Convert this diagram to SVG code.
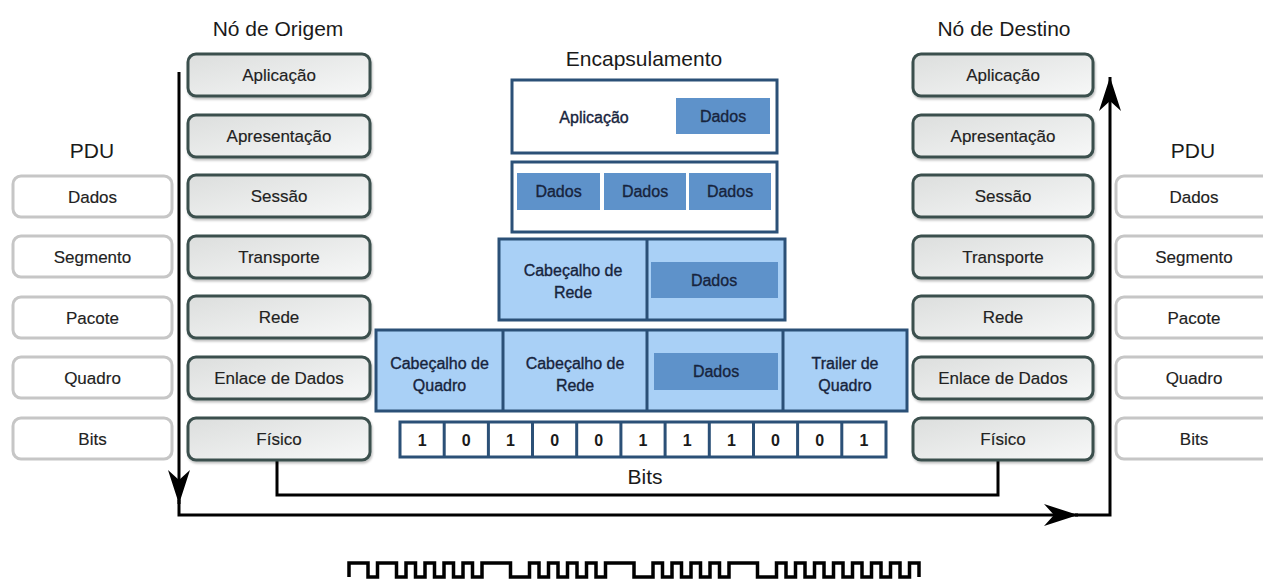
<svg xmlns="http://www.w3.org/2000/svg" width="1263" height="581" viewBox="0 0 1263 581">
<style>
  text { font-family: "Liberation Sans", Arial, sans-serif; text-anchor: middle; }
  .title { font-size: 21px; fill: #1a1a1a; }
  .lbl { font-size: 17px; fill: #222222; dominant-baseline: central; stroke: #222222; stroke-width: 0.15; }
  .enc { font-size: 16px; fill: #17243d; dominant-baseline: central; stroke: #17243d; stroke-width: 0.35; }
  .bit { font-size: 16px; font-weight: bold; fill: #1a1a1a; dominant-baseline: central; }
  .layer { fill: url(#layerGrad); stroke: #3b504d; stroke-width: 3; filter: url(#sh); }
  .pdu { fill: #ffffff; stroke: #c6c6c6; stroke-width: 3; }
  .frame { stroke: #2b5077; stroke-width: 3; }
  .white { fill: #ffffff; }
  .light { fill: #a9d0f6; }
  .mid { fill: #5e92ca; }
  .div { stroke: #2b5077; stroke-width: 3; fill: none; }
  .conn { fill: none; stroke: #000; stroke-width: 3; }
</style>
<defs>
  <linearGradient id="layerGrad" x1="0" y1="0" x2="1" y2="1">
    <stop offset="0" stop-color="#dcdedd"/>
    <stop offset="1" stop-color="#f7f8f8"/>
  </linearGradient>
  <filter id="sh" x="-10%" y="-20%" width="120%" height="150%">
    <feDropShadow dx="1" dy="2" stdDeviation="1.2" flood-color="#000" flood-opacity="0.25"/>
  </filter>
  <marker id="arr" viewBox="0 0 34 22" markerWidth="34" markerHeight="22" refX="34" refY="11" orient="auto" markerUnits="userSpaceOnUse">
    <path d="M0,0 L34,11 L0,22 L10,11 z" fill="#000"/>
  </marker>
</defs>
<rect width="1263" height="581" fill="#ffffff"/>

<!-- titles -->
<text class="title" x="278" y="36">Nó de Origem</text>
<text class="title" x="1004" y="36">Nó de Destino</text>
<text class="title" x="92" y="158">PDU</text>
<text class="title" x="1193" y="158">PDU</text>
<text class="title" x="644" y="66">Encapsulamento</text>
<text class="title" x="645" y="484">Bits</text>

<!-- connectors -->
<g id="connectors">
  <path class="conn" d="M179,72 V504" marker-end="url(#arr)"/>
  <path class="conn" d="M179,500 V515 H1078" marker-end="url(#arr)"/>
  <path class="conn" d="M1075,515 H1110 V77" marker-end="url(#arr)"/>
  <path class="conn" d="M277,460 V495 H998 V460"/>
</g>

<!-- left PDU column -->
<g id="pdu-left-dados"><rect class="pdu" x="13" y="176" width="159" height="41" rx="8"/><text class="lbl" x="92.5" y="197">Dados</text></g>
<g id="pdu-left-segmento"><rect class="pdu" x="13" y="236" width="159" height="41" rx="8"/><text class="lbl" x="92.5" y="257">Segmento</text></g>
<g id="pdu-left-pacote"><rect class="pdu" x="13" y="297" width="159" height="41" rx="8"/><text class="lbl" x="92.5" y="318">Pacote</text></g>
<g id="pdu-left-quadro"><rect class="pdu" x="13" y="357" width="159" height="41" rx="8"/><text class="lbl" x="92.5" y="378">Quadro</text></g>
<g id="pdu-left-bits"><rect class="pdu" x="13" y="418" width="159" height="41" rx="8"/><text class="lbl" x="92.5" y="439">Bits</text></g>

<!-- origin node -->
<g id="src-aplicacao"><rect class="layer" x="188" y="54" width="182" height="42" rx="8"/><text class="lbl" x="279" y="75">Aplicação</text></g>
<g id="src-apresentacao"><rect class="layer" x="188" y="115" width="182" height="42" rx="8"/><text class="lbl" x="279" y="136">Apresentação</text></g>
<g id="src-sessao"><rect class="layer" x="188" y="175" width="182" height="42" rx="8"/><text class="lbl" x="279" y="196">Sessão</text></g>
<g id="src-transporte"><rect class="layer" x="188" y="236" width="182" height="42" rx="8"/><text class="lbl" x="279" y="257">Transporte</text></g>
<g id="src-rede"><rect class="layer" x="188" y="296" width="182" height="42" rx="8"/><text class="lbl" x="279" y="317">Rede</text></g>
<g id="src-enlace"><rect class="layer" x="188" y="357" width="182" height="42" rx="8"/><text class="lbl" x="279" y="378">Enlace de Dados</text></g>
<g id="src-fisico"><rect class="layer" x="188" y="418" width="182" height="42" rx="8"/><text class="lbl" x="279" y="439">Físico</text></g>

<!-- destination node -->
<g id="dst-aplicacao"><rect class="layer" x="913" y="54" width="180" height="42" rx="8"/><text class="lbl" x="1003" y="75">Aplicação</text></g>
<g id="dst-apresentacao"><rect class="layer" x="913" y="115" width="180" height="42" rx="8"/><text class="lbl" x="1003" y="136">Apresentação</text></g>
<g id="dst-sessao"><rect class="layer" x="913" y="175" width="180" height="42" rx="8"/><text class="lbl" x="1003" y="196">Sessão</text></g>
<g id="dst-transporte"><rect class="layer" x="913" y="236" width="180" height="42" rx="8"/><text class="lbl" x="1003" y="257">Transporte</text></g>
<g id="dst-rede"><rect class="layer" x="913" y="296" width="180" height="42" rx="8"/><text class="lbl" x="1003" y="317">Rede</text></g>
<g id="dst-enlace"><rect class="layer" x="913" y="357" width="180" height="42" rx="8"/><text class="lbl" x="1003" y="378">Enlace de Dados</text></g>
<g id="dst-fisico"><rect class="layer" x="913" y="418" width="180" height="42" rx="8"/><text class="lbl" x="1003" y="439">Físico</text></g>

<!-- right PDU column -->
<g id="pdu-right-dados"><rect class="pdu" x="1116" y="176" width="158" height="41" rx="8"/><text class="lbl" x="1194" y="197">Dados</text></g>
<g id="pdu-right-segmento"><rect class="pdu" x="1116" y="236" width="158" height="41" rx="8"/><text class="lbl" x="1194" y="257">Segmento</text></g>
<g id="pdu-right-pacote"><rect class="pdu" x="1116" y="297" width="158" height="41" rx="8"/><text class="lbl" x="1194" y="318">Pacote</text></g>
<g id="pdu-right-quadro"><rect class="pdu" x="1116" y="357" width="158" height="41" rx="8"/><text class="lbl" x="1194" y="378">Quadro</text></g>
<g id="pdu-right-bits"><rect class="pdu" x="1116" y="418" width="158" height="41" rx="8"/><text class="lbl" x="1194" y="439">Bits</text></g>

<!-- encapsulation -->
<g id="enc-aplicacao">
  <rect class="white frame" x="512" y="80" width="265" height="73"/>
  <text class="enc" x="594" y="117">Aplicação</text>
  <rect class="mid" x="676" y="98" width="94" height="36"/>
  <text class="enc" x="723" y="116">Dados</text>
</g>
<g id="enc-segmentos">
  <rect class="white frame" x="512" y="162" width="265" height="70"/>
  <rect class="mid" x="517" y="173" width="83" height="37"/>
  <rect class="mid" x="604" y="173" width="82" height="37"/>
  <rect class="mid" x="689" y="173" width="82" height="37"/>
  <text class="enc" x="558.5" y="191">Dados</text>
  <text class="enc" x="645" y="191">Dados</text>
  <text class="enc" x="730" y="191">Dados</text>
</g>
<g id="enc-pacote">
  <rect class="light frame" x="499" y="239" width="286" height="81"/>
  <line class="div" x1="647" y1="239" x2="647" y2="320"/>
  <text class="enc" x="573" y="270">Cabeçalho de</text>
  <text class="enc" x="573" y="292">Rede</text>
  <rect class="mid" x="651" y="262" width="127" height="36"/>
  <text class="enc" x="714" y="280">Dados</text>
</g>
<g id="enc-quadro">
  <rect class="light frame" x="376" y="330" width="531" height="81"/>
  <line class="div" x1="503" y1="330" x2="503" y2="411"/>
  <line class="div" x1="647" y1="330" x2="647" y2="411"/>
  <line class="div" x1="783" y1="330" x2="783" y2="411"/>
  <text class="enc" x="439.5" y="363">Cabeçalho de</text>
  <text class="enc" x="439.5" y="385">Quadro</text>
  <text class="enc" x="575" y="363">Cabeçalho de</text>
  <text class="enc" x="575" y="385">Rede</text>
  <rect class="mid" x="654" y="353" width="124" height="37"/>
  <text class="enc" x="716" y="371">Dados</text>
  <text class="enc" x="845" y="363">Trailer de</text>
  <text class="enc" x="845" y="385">Quadro</text>
</g>
<g id="enc-bits">
  <rect class="white frame" x="400" y="422" width="486" height="35"/>
  <path class="div" d="M444.2,422 V457 M488.4,422 V457 M532.5,422 V457 M576.7,422 V457 M620.9,422 V457 M665.1,422 V457 M709.3,422 V457 M753.5,422 V457 M797.6,422 V457 M841.8,422 V457"/>
  <text class="bit" x="422.1" y="440">1</text>
  <text class="bit" x="466.3" y="440">0</text>
  <text class="bit" x="510.5" y="440">1</text>
  <text class="bit" x="554.6" y="440">0</text>
  <text class="bit" x="598.8" y="440">0</text>
  <text class="bit" x="643" y="440">1</text>
  <text class="bit" x="687.2" y="440">1</text>
  <text class="bit" x="731.4" y="440">1</text>
  <text class="bit" x="775.5" y="440">0</text>
  <text class="bit" x="819.7" y="440">0</text>
  <text class="bit" x="863.9" y="440">1</text>
</g>

<!-- signal waveform -->
<g id="signal">
  <path fill="none" stroke="#000" stroke-width="3.5" stroke-linejoin="miter" d="M349,577 V563 H368 V577 H377.5 V563 H396.5 V577 H406 V563 H415.5 V577 H425 V563 H434.5 V577 H444 V563 H453.5 V577 H463 V563 H472.5 V577 H482 V563 H510.5 V577 H529.5 V563 H539 V577 H548.5 V563 H558 V577 H567.5 V563 H577 V577 H586.5 V563 H596 V577 H605.5 V563 H634 V577 H653 V563 H662.5 V577 H672 V563 H681.5 V577 H691 V563 H700.5 V577 H710 V563 H719.5 V577 H729 V563 H757.5 V577 H776.5 V563 H786 V577 H795.5 V563 H805 V577 H814.5 V563 H824 V577 H833.5 V563 H843 V577 H852.5 V563 H862 V577 H871.5 V563 H881 V577 H890.5 V563 H900 V577 H909.5 V563 H919 V577"/>
</g>
</svg>
